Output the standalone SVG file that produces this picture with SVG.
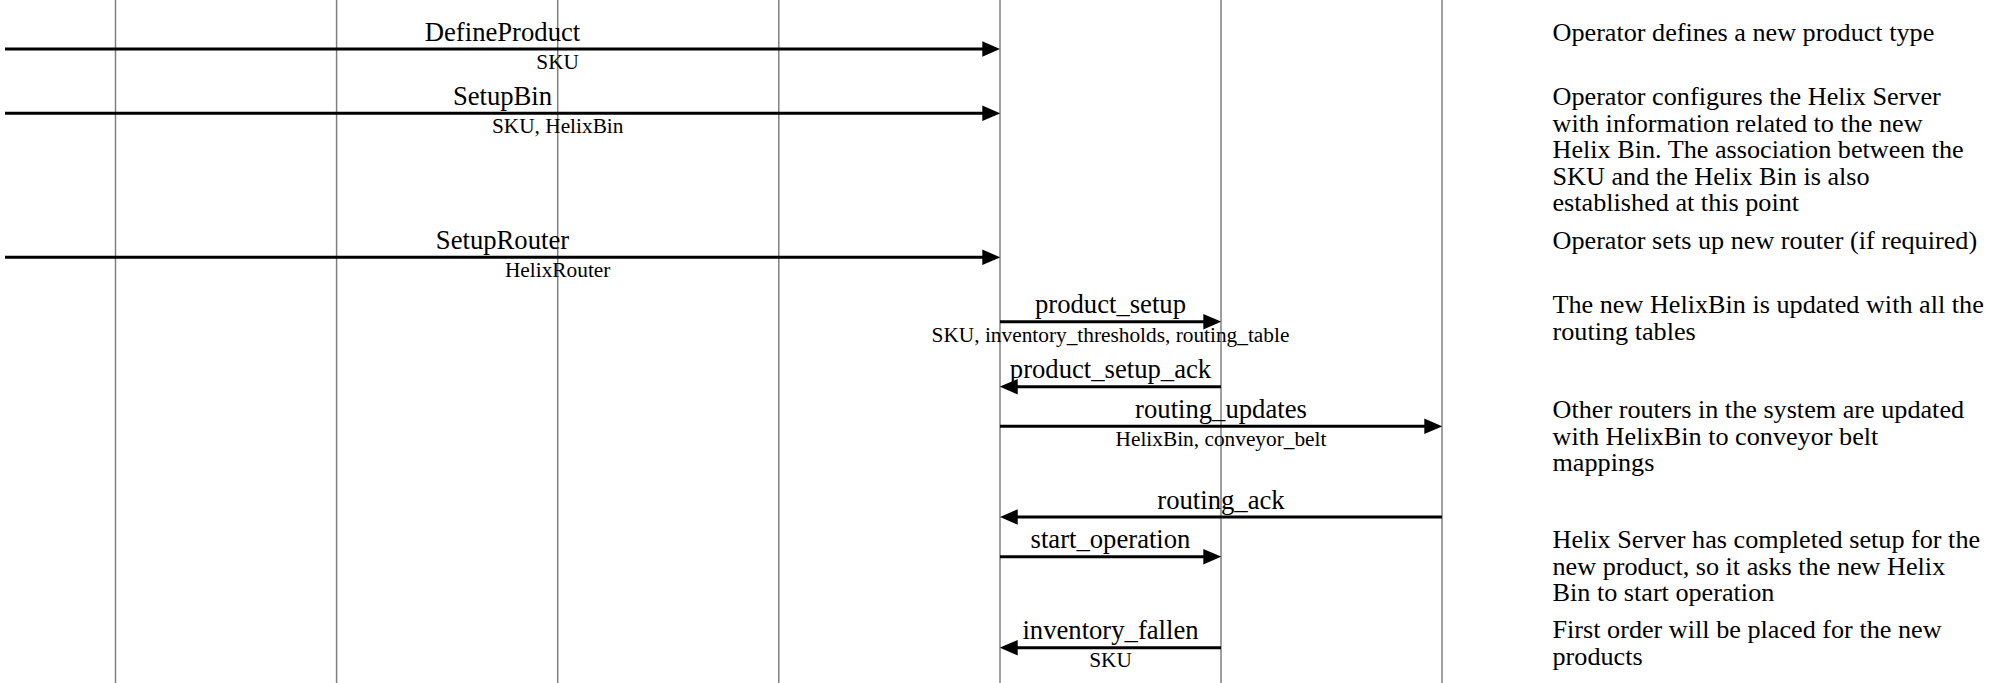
<svg xmlns="http://www.w3.org/2000/svg" width="1997" height="683" viewBox="0 0 1997 683">
<style>
.life{stroke:#808080;stroke-width:1.5;fill:none}
.msg{stroke:#000;stroke-width:3;fill:none;marker-end:url(#ah)}
.lbl{font-family:"Liberation Serif","Times New Roman",serif;font-size:26.67px;fill:#000;text-anchor:middle}
.sub{font-family:"Liberation Serif","Times New Roman",serif;font-size:21.33px;fill:#000;text-anchor:middle}
.desc{font-family:"Liberation Serif","Times New Roman",serif;font-size:26.2px;fill:#000}
</style>
<defs>
<marker id="ah" markerUnits="userSpaceOnUse" markerWidth="18" markerHeight="16" viewBox="0 0 17.5 15" refX="7.5" refY="7.5" orient="auto">
<path d="M0,0 L17.5,7.5 L0,15 z" fill="#000"/>
</marker>
</defs>
<rect width="1997" height="683" fill="#fff"/>
<g id="lifelines">
<line class="life" x1="115.5" y1="0" x2="115.5" y2="683"/>
<line class="life" x1="336.6" y1="0" x2="336.6" y2="683"/>
<line class="life" x1="557.7" y1="0" x2="557.7" y2="683"/>
<line class="life" x1="778.8" y1="0" x2="778.8" y2="683"/>
<line class="life" x1="1000" y1="0" x2="1000" y2="683"/>
<line class="life" x1="1221" y1="0" x2="1221" y2="683"/>
<line class="life" x1="1442" y1="0" x2="1442" y2="683"/>
</g>
<g id="connectors">
<path class="msg" d="M5,49 L990,49"/>
<path class="msg" d="M5,113.3 L990,113.3"/>
<path class="msg" d="M5,257.3 L990,257.3"/>
<path class="msg" d="M1000,321.7 L1211,321.7"/>
<path class="msg" d="M1221,386.7 L1010,386.7"/>
<path class="msg" d="M1000,426.3 L1432,426.3"/>
<path class="msg" d="M1442,517 L1010,517"/>
<path class="msg" d="M1000,556.7 L1211,556.7"/>
<path class="msg" d="M1221,647.7 L1010,647.7"/>
</g>
<g id="msg-defineproduct">
<text class="lbl" x="502.5" y="40.7">DefineProduct</text>
<text class="sub" x="557.7" y="69">SKU</text>
</g>
<g id="msg-setupbin">
<text class="lbl" x="502.5" y="105">SetupBin</text>
<text class="sub" x="557.7" y="133.3">SKU, HelixBin</text>
</g>
<g id="msg-setuprouter">
<text class="lbl" x="502.5" y="249">SetupRouter</text>
<text class="sub" x="557.7" y="277">HelixRouter</text>
</g>
<g id="msg-product-setup">
<text class="lbl" x="1110.5" y="313.3">product_setup</text>
<text class="sub" x="1110.5" y="341.7">SKU, inventory_thresholds, routing_table</text>
</g>
<g id="msg-product-setup-ack">
<text class="lbl" x="1110.5" y="378.3">product_setup_ack</text>
</g>
<g id="msg-routing-updates">
<text class="lbl" x="1221" y="418">routing_updates</text>
<text class="sub" x="1221" y="446">HelixBin, conveyor_belt</text>
</g>
<g id="msg-routing-ack">
<text class="lbl" x="1221" y="508.6">routing_ack</text>
</g>
<g id="msg-start-operation">
<text class="lbl" x="1110.5" y="548.3">start_operation</text>
</g>
<g id="msg-inventory-fallen">
<text class="lbl" x="1110.5" y="639.3">inventory_fallen</text>
<text class="sub" x="1110.5" y="667">SKU</text>
</g>
<g id="notes">
<text class="desc" x="1552.5" y="40.7">Operator defines a new product type</text>
<text class="desc" x="1552.5" y="105"><tspan x="1552.5">Operator configures the Helix Server</tspan><tspan x="1552.5" dy="26.5">with information related to the new</tspan><tspan x="1552.5" dy="26.5">Helix Bin. The association between the</tspan><tspan x="1552.5" dy="26.5">SKU and the Helix Bin is also</tspan><tspan x="1552.5" dy="26.5">established at this point</tspan></text>
<text class="desc" x="1552.5" y="249">Operator sets up new router (if required)</text>
<text class="desc" x="1552.5" y="313.3"><tspan x="1552.5">The new HelixBin is updated with all the</tspan><tspan x="1552.5" dy="26.5">routing tables</tspan></text>
<text class="desc" x="1552.5" y="418"><tspan x="1552.5">Other routers in the system are updated</tspan><tspan x="1552.5" dy="26.5">with HelixBin to conveyor belt</tspan><tspan x="1552.5" dy="26.5">mappings</tspan></text>
<text class="desc" x="1552.5" y="548.3"><tspan x="1552.5">Helix Server has completed setup for the</tspan><tspan x="1552.5" dy="26.5">new product, so it asks the new Helix</tspan><tspan x="1552.5" dy="26.5">Bin to start operation</tspan></text>
<text class="desc" x="1552.5" y="638.3"><tspan x="1552.5">First order will be placed for the new</tspan><tspan x="1552.5" dy="26.5">products</tspan></text>
</g>
</svg>
